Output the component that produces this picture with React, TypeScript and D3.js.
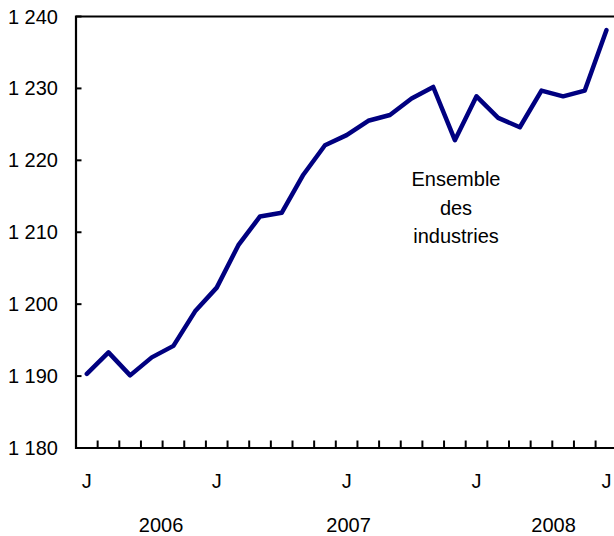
import React, { useEffect, useRef } from 'react';
import * as d3 from 'd3';

// one entry per month, only the J months are labelled
const months = ['J', '', '', '', '', '', 'J', '', '', '', '', '', 'J', '', '', '', '', '', 'J', '', '', '', '', '', 'J'];
const values = [
  1190.3, 1193.3, 1190.1, 1192.6, 1194.2, 1199.0, 1202.3, 1208.2, 1212.2, 1212.7,
  1218.0, 1222.1, 1223.5, 1225.5, 1226.3, 1228.6, 1230.2, 1222.8, 1228.9, 1225.9,
  1224.6, 1229.7, 1228.9, 1229.7, 1238.1,
];
const years = ['2006', '2007', '2008'];
const yTicks = [1180, 1190, 1200, 1210, 1220, 1230, 1240];
const seriesLabel = ['Ensemble', 'des', 'industries'];

const App = () => {
  const svgRef = useRef<SVGSVGElement>(null);

  useEffect(() => {
    const svg = d3.select(svgRef.current);
    svg.selectAll('*').remove();

    const W = 614, H = 536;
    const left = 76, top = 16.5, bottom = 448;
    const bandW = 21.65;
    const right = left + bandW * values.length;
    const font = '"Liberation Sans", Arial, Helvetica, sans-serif';
    const fs = 20;

    svg.attr('width', W).attr('height', H);

    const x = d3.scaleBand<number>()
      .domain(values.map((_, i) => i))
      .range([left, right])
      .padding(0);
    const xc = (i: number) => (x(i) as number) + x.bandwidth() / 2;
    const xAt = (pos: number) => left + pos * x.bandwidth();

    const y = d3.scaleLinear().domain([1180, 1240]).range([bottom, top]);

    const fmt = d3.formatLocale({ decimal: ',', thousands: ' ', grouping: [3], currency: ['', ' $'] }).format(',');

    const g = svg.append('g');

    // frame
    g.append('path')
      .attr('d', `M${right},${top}H${left}V${bottom}H${right}`)
      .attr('fill', 'none')
      .attr('stroke', '#000')
      .attr('stroke-width', 2.2);

    // y ticks and labels
    g.selectAll('.ytick')
      .data(yTicks)
      .enter().append('line')
      .attr('x1', left).attr('x2', left + 5.5)
      .attr('y1', d => y(d)).attr('y2', d => y(d))
      .attr('stroke', '#000').attr('stroke-width', 2);

    g.selectAll('.ylab')
      .data(yTicks)
      .enter().append('text')
      .attr('x', left - 18)
      .attr('y', d => y(d) + 7)
      .attr('text-anchor', 'end')
      .attr('font-family', font)
      .attr('font-size', fs)
      .attr('fill', '#000')
      .text(d => fmt(d));

    // x ticks at month boundaries
    g.selectAll('.xtick')
      .data(d3.range(1, values.length))
      .enter().append('line')
      .attr('x1', d => xAt(d)).attr('x2', d => xAt(d))
      .attr('y1', bottom).attr('y2', bottom - 7.5)
      .attr('stroke', '#000').attr('stroke-width', 2);

    g.selectAll('.xlab')
      .data(months.map((m, i) => ({ m, i })).filter(d => d.m))
      .enter().append('text')
      .attr('x', d => xc(d.i))
      .attr('y', 488)
      .attr('text-anchor', 'middle')
      .attr('font-family', font)
      .attr('font-size', fs)
      .text(d => d.m);

    // year labels (placed in month units along the axis)
    const yearAt = [3.93, 12.59, 22.06];
    g.selectAll('.year')
      .data(years)
      .enter().append('text')
      .attr('x', (_, i) => xAt(yearAt[i]))
      .attr('y', 531.5)
      .attr('text-anchor', 'middle')
      .attr('font-family', font)
      .attr('font-size', fs)
      .text(d => d);

    // series line
    const line = d3.line<number>()
      .x((_, i) => xc(i))
      .y(d => y(d));

    g.append('path')
      .datum(values)
      .attr('d', line)
      .attr('fill', 'none')
      .attr('stroke', '#000080')
      .attr('stroke-width', 4.5)
      .attr('stroke-linejoin', 'round')
      .attr('stroke-linecap', 'round');

    // series label
    g.selectAll('.slab')
      .data(seriesLabel)
      .enter().append('text')
      .attr('x', 456)
      .attr('y', (_, i) => 186 + i * 28.5)
      .attr('text-anchor', 'middle')
      .attr('font-family', font)
      .attr('font-size', fs)
      .text(d => d);
  }, []);

  return (
    <svg
      ref={svgRef}
      style={{ position: 'absolute', left: 0, top: 0, display: 'block', background: '#fff' }}
    />
  );
};

export default App;
